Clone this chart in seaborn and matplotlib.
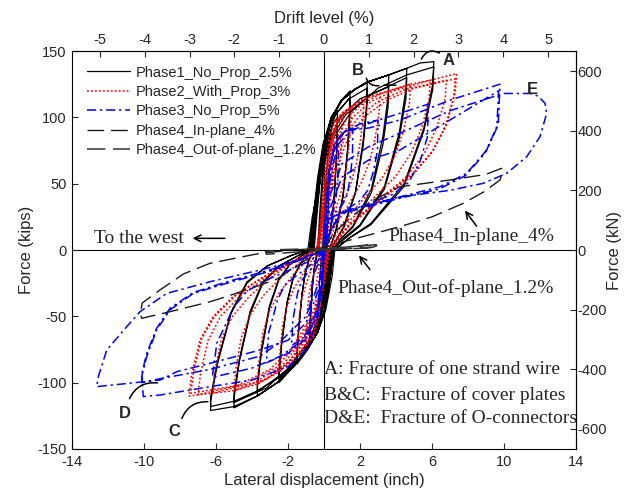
import pandas as pd
import matplotlib
matplotlib.use("Agg")
import matplotlib.pyplot as plt
import seaborn as sns

# displacement (inch), force (kips) read along each phase's loops
p1_path = [
    (0, 0), (0.05, 30), (0.15, 50), (0.3, 60), (0.29, 50), (0.25, 35), (0.18, 15), (0.1, 3), (0.05, 0),
    (-0.05, -20), (-0.15, -35), (-0.3, -45), (-0.29, -40), (-0.25, -25), (-0.17, -9), (-0.1, -2), (-0.08, 0),
    (0.0, 25), (0.12, 55), (0.3, 82), (0.5, 97), (0.75, 105), (0.74, 92), (0.68, 68), (0.55, 37), (0.35, 15), (0.2, 6), (0.1, 0),
    (0.0, -20), (-0.15, -42), (-0.4, -62), (-0.8, -72), (-0.8, -68), (-0.75, -51), (-0.65, -29), (-0.55, -15), (-0.42, -6), (-0.3, 0),
    (-0.2, 25), (-0.05, 55), (0.15, 80), (0.45, 94), (0.75, 100), (0.74, 88), (0.68, 65), (0.55, 35), (0.35, 14), (0.22, 6), (0.15, 0),
    (0.05, -18), (-0.12, -42), (-0.4, -60), (-0.8, -70), (-0.8, -66), (-0.75, -50), (-0.65, -28), (-0.56, -15), (-0.45, -6), (-0.35, 0),
    (-0.25, 25), (-0.1, 55), (0.1, 80), (0.4, 98), (0.9, 112), (1.45, 120), (1.43, 106), (1.32, 78), (1.06, 42), (0.7, 17), (0.45, 6), (0.3, 0),
    (0.15, -20), (-0.05, -42), (-0.35, -62), (-0.9, -75), (-1.5, -86), (-1.5, -81), (-1.41, -61), (-1.23, -34), (-1.05, -18), (-0.85, -8), (-0.6, 0),
    (-0.45, 25), (-0.25, 55), (0.0, 80), (0.5, 100), (1.45, 115), (1.43, 101), (1.32, 75), (1.06, 40), (0.7, 16), (0.45, 6), (0.25, 0),
    (0.1, -18), (-0.15, -45), (-0.5, -64), (-1.0, -75), (-1.5, -84), (-1.5, -79), (-1.41, -60), (-1.23, -34), (-1.05, -18), (-0.85, -8), (-0.55, 0),
    (-0.4, 25), (-0.2, 55), (0.05, 82), (0.4, 100), (1.0, 113), (1.7, 121), (2.4, 127), (2.38, 112), (2.18, 83), (1.75, 44), (1.1, 18), (0.7, 8), (0.4, 0),
    (0.25, -20), (0.0, -45), (-0.35, -62), (-1.0, -76), (-1.7, -88), (-2.5, -100), (-2.5, -94), (-2.35, -71), (-2.05, -40), (-1.7, -21), (-1.3, -10), (-0.8, 0),
    (-0.6, 25), (-0.35, 55), (-0.05, 80), (0.5, 100), (1.4, 114), (2.4, 122), (2.38, 107), (2.18, 79), (1.75, 43), (1.1, 17), (0.7, 8), (0.35, 0),
    (0.2, -20), (-0.1, -45), (-0.6, -65), (-1.2, -80), (-1.9, -90), (-2.5, -97), (-2.5, -91), (-2.35, -69), (-2.05, -39), (-1.7, -20), (-1.3, -10), (-0.75, 0),
    (-0.55, 25), (-0.3, 55), (0.0, 82), (0.4, 100), (1.0, 113), (1.7, 121), (2.5, 127), (3.6, 132), (3.56, 116), (3.28, 86), (2.63, 46), (1.6, 18), (0.9, 8), (0.5, 0),
    (0.35, -20), (0.05, -45), (-0.35, -62), (-1.0, -76), (-1.7, -88), (-2.6, -100), (-3.7, -110), (-3.7, -103), (-3.48, -78), (-3.03, -44), (-2.52, -23), (-1.9, -11), (-1.1, -3), (-0.7, 0),
    (-0.5, 25), (-0.2, 55), (0.2, 80), (0.9, 100), (2.0, 114), (3.6, 123), (3.56, 108), (3.28, 80), (2.63, 43), (1.6, 17), (0.9, 8), (0.45, 0),
    (0.25, -20), (-0.1, -45), (-0.6, -65), (-1.4, -82), (-2.5, -96), (-3.7, -106), (-3.7, -100), (-3.48, -75), (-3.03, -42), (-2.52, -22), (-1.9, -11), (-1.1, -3), (-0.65, 0),
    (-0.45, 25), (-0.2, 55), (0.1, 82), (0.45, 100), (1.0, 113), (1.7, 121), (2.5, 127), (3.6, 132), (4.6, 137), (4.55, 121), (4.19, 89), (3.36, 48), (2.0, 19), (1.1, 9), (0.5, 0),
    (0.35, -20), (0.05, -45), (-0.35, -62), (-1.0, -76), (-1.7, -88), (-2.6, -100), (-3.7, -110), (-5.0, -119), (-5.0, -112), (-4.7, -84), (-4.1, -48), (-3.4, -25), (-2.5, -12), (-1.4, -4), (-0.8, 0),
    (-0.55, 25), (-0.2, 55), (0.3, 82), (1.2, 102), (2.6, 117), (4.6, 130), (4.55, 114), (4.19, 85), (3.36, 46), (2.0, 18), (1.1, 8), (0.45, 0),
    (0.25, -20), (-0.15, -45), (-0.8, -68), (-1.9, -88), (-3.2, -104), (-5.0, -115), (-5.0, -108), (-4.7, -82), (-4.1, -46), (-3.4, -24), (-2.5, -12), (-1.4, -4), (-0.8, 0),
    (-0.6, 25), (-0.3, 55), (0.05, 82), (0.45, 100), (1.0, 113), (1.7, 121), (2.5, 127), (3.6, 132), (4.6, 137), (5.35, 141), (6.1, 142), (6.04, 125), (5.55, 92), (4.45, 50), (2.6, 20), (1.4, 9), (0.6, 0),
    (0.45, -20), (0.1, -45), (-0.35, -62), (-1.0, -76), (-1.7, -88), (-2.6, -100), (-3.7, -110), (-5.0, -118), (-6.3, -121), (-6.3, -114), (-5.92, -86), (-5.17, -48), (-4.28, -25), (-3.15, -12), (-1.8, -4), (-0.9, 0),
    (-0.65, 25), (-0.2, 55), (0.4, 82), (1.5, 104), (3.0, 122), (4.6, 132), (6.1, 138), (6.04, 121), (5.55, 90), (4.45, 48), (2.6, 19), (1.4, 9), (0.55, 0),
    (0.35, -20), (-0.1, -45), (-0.9, -70), (-2.0, -90), (-3.5, -105), (-5.0, -114), (-6.3, -118), (-6.3, -111), (-5.92, -84), (-5.17, -47), (-4.28, -24), (-3.15, -12), (-1.8, -4), (-0.9, 0),
]

p2_path = [
    (0, 0), (0.1, 30), (0.25, 60), (0.4, 78), (0.5, 85), (0.5, 76), (0.46, 61), (0.41, 48), (0.34, 37), (0.23, 26), (0.1, 13), (0, 0),
    (-0.1, -25), (-0.3, -45), (-0.5, -55), (-0.49, -47), (-0.46, -34), (-0.41, -25), (-0.34, -18), (-0.23, -10), (-0.1, -3), (0, 0),
    (0.1, 30), (0.25, 60), (0.45, 85), (0.7, 95), (1.0, 100), (0.99, 89), (0.92, 72), (0.82, 57), (0.67, 43), (0.45, 30), (0.2, 15), (0, 0),
    (-0.1, -25), (-0.3, -50), (-0.6, -65), (-1.0, -72), (-0.98, -61), (-0.92, -45), (-0.82, -33), (-0.67, -23), (-0.45, -13), (-0.25, -4), (-0.15, 0),
    (-0.05, 30), (0.15, 60), (0.4, 85), (0.7, 97), (1.0, 103), (1.5, 108), (1.49, 96), (1.38, 78), (1.23, 62), (1.0, 46), (0.68, 32), (0.3, 16), (0.05, 0),
    (-0.1, -25), (-0.3, -50), (-0.6, -65), (-1.0, -72), (-1.5, -80), (-1.47, -68), (-1.38, -50), (-1.23, -37), (-1.0, -26), (-0.7, -14), (-0.45, -5), (-0.3, 0),
    (-0.1, 30), (0.1, 60), (0.45, 85), (0.85, 98), (1.4, 106), (2.2, 114), (2.18, 101), (2.02, 82), (1.8, 65), (1.47, 49), (0.99, 34), (0.44, 17), (0.1, 0),
    (-0.1, -25), (-0.35, -50), (-0.8, -66), (-1.5, -80), (-2.5, -92), (-2.45, -78), (-2.3, -57), (-2.05, -42), (-1.68, -29), (-1.13, -17), (-0.6, -6), (-0.3, 0),
    (-0.1, 30), (0.2, 60), (0.6, 85), (1.0, 100), (1.6, 108), (2.3, 114), (3.1, 118), (3.07, 105), (2.85, 85), (2.54, 67), (2.08, 51), (1.4, 35), (0.62, 18), (0.15, 0),
    (-0.1, -25), (-0.45, -50), (-1.0, -68), (-1.8, -82), (-2.7, -93), (-3.7, -101), (-3.63, -86), (-3.4, -63), (-3.03, -46), (-2.48, -32), (-1.67, -18), (-0.8, -6), (-0.35, 0),
    (-0.05, 30), (0.3, 60), (0.75, 85), (1.3, 100), (2.2, 111), (3.2, 118), (4.8, 125), (4.75, 111), (4.42, 90), (3.94, 71), (3.22, 54), (2.16, 38), (0.96, 19), (0.2, 0),
    (-0.05, -25), (-0.5, -50), (-1.2, -70), (-2.0, -85), (-3.2, -97), (-5.0, -106), (-4.9, -90), (-4.6, -66), (-4.1, -49), (-3.35, -34), (-2.25, -19), (-1.0, -6), (-0.4, 0),
    (0.0, 30), (0.45, 60), (0.95, 85), (1.6, 100), (2.6, 112), (3.9, 120), (5.9, 128), (5.84, 114), (5.43, 92), (4.84, 73), (3.95, 55), (2.66, 38), (1.18, 19), (0.25, 0),
    (0.0, -25), (-0.55, -50), (-1.4, -72), (-2.4, -88), (-3.9, -100), (-6.2, -108), (-6.08, -92), (-5.7, -67), (-5.08, -50), (-4.15, -35), (-2.8, -19), (-1.3, -6), (-0.45, 0),
    (0.05, 30), (0.55, 60), (1.15, 85), (1.9, 100), (3.0, 112), (4.5, 121), (6.8, 128), (6.73, 114), (6.26, 92), (5.58, 73), (4.56, 55), (3.06, 38), (1.36, 19), (0.3, 0),
    (0.0, -25), (-0.6, -50), (-1.6, -73), (-2.7, -89), (-4.4, -101), (-7.0, -109), (-6.86, -93), (-6.44, -68), (-5.74, -50), (-4.69, -35), (-3.15, -20), (-1.45, -7), (-0.4, 0),
    (-0.15, 30), (0.05, 60), (0.3, 85), (0.6, 97), (1.0, 103), (1.5, 108), (2.2, 114), (3.1, 118), (4.8, 125), (5.9, 128), (7.37, 133), (7.28, 118), (6.81, 95), (6.07, 75), (4.96, 58), (3.3, 40), (1.47, 20), (0.2, 0),
    (-0.05, -25), (-0.3, -50), (-0.6, -65), (-1.0, -72), (-1.5, -80), (-2.5, -92), (-3.7, -101), (-5.0, -106), (-6.2, -108), (-7.5, -110), (-7.35, -93), (-6.89, -68), (-6.15, -50), (-5.04, -35), (-3.93, -25), (-2.5, -14), (-1.2, -5), (-0.3, 0),
    (0.1, 30), (0.65, 60), (1.35, 85), (2.2, 100), (3.5, 113), (5.0, 122), (7.3, 129), (7.2, 115), (6.75, 93), (6.0, 74), (4.9, 56), (3.3, 39), (1.46, 19), (0.3, 0),
    (0.0, -25), (-0.7, -50), (-1.8, -74), (-3.0, -90), (-4.8, -102), (-7.4, -108), (-7.25, -92), (-6.8, -67), (-6.07, -50), (-4.96, -35), (-3.33, -20), (-1.5, -7), (-0.4, 0),
]

p3_path = [
    (0, 0), (0.1, 30), (0.3, 60), (0.55, 75), (0.8, 80), (0.79, 62), (0.74, 49), (0.65, 37), (0.53, 30), (0.34, 26), (0.07, 18), (0, 0),
    (-0.1, -25), (-0.35, -45), (-0.8, -55), (-0.79, -51), (-0.77, -40), (-0.7, -31), (-0.65, -25), (-0.55, -18), (-0.4, -13), (-0.22, -8), (-0.1, -4), (0, 0),
    (0.1, 30), (0.3, 60), (0.6, 80), (1.0, 88), (1.6, 92), (1.58, 71), (1.47, 56), (1.3, 42), (1.06, 35), (0.69, 29), (0.14, 21), (0, 0),
    (-0.1, -25), (-0.4, -50), (-1.0, -65), (-1.8, -72), (-1.78, -67), (-1.73, -53), (-1.57, -40), (-1.46, -32), (-1.24, -23), (-0.9, -17), (-0.5, -11), (-0.22, -6), (0, 0),
    (0.1, 30), (0.3, 60), (0.6, 80), (1.2, 90), (2.0, 95), (3.0, 98), (2.97, 75), (2.76, 60), (2.43, 45), (1.98, 37), (1.29, 31), (0.27, 23), (0, 0),
    (-0.1, -25), (-0.4, -50), (-1.0, -67), (-2.0, -78), (-3.2, -85), (-3.17, -79), (-3.07, -62), (-2.78, -48), (-2.59, -38), (-2.21, -27), (-1.6, -20), (-0.9, -13), (-0.38, -7), (0, 0),
    (0.15, 30), (0.4, 60), (0.8, 80), (1.5, 90), (2.8, 97), (4.2, 103), (5.8, 110), (5.74, 85), (5.34, 67), (4.7, 51), (3.83, 42), (2.49, 35), (0.52, 25), (0, 0),
    (-0.15, -25), (-0.5, -50), (-1.2, -68), (-2.4, -80), (-4.0, -89), (-6.2, -96), (-6.14, -89), (-5.95, -70), (-5.39, -54), (-5.02, -43), (-4.28, -31), (-3.1, -22), (-1.74, -14), (-0.74, -8), (0, 0),
    (0.1, 30), (0.3, 60), (0.6, 80), (1.2, 90), (2.5, 92), (4.22, 98), (7.0, 113), (9.78, 125), (9.68, 95.5), (9.04, 75.4), (7.93, 57.8), (6.44, 47.7), (4.22, 40), (0.9, 28), (0.2, 10), (0, 0),
    (-0.1, -25), (-0.4, -55), (-1.0, -75), (-2.0, -88), (-4.0, -98), (-6.33, -103), (-9.1, -109.3), (-10.04, -110.5), (-10.13, -95.5), (-9.85, -80.4), (-9.3, -60.3), (-8.56, -45.2), (-7.26, -32.7), (-5.41, -25.1), (-3.0, -16), (-1.2, -7), (0, 0),
    (0.3, 30), (1.0, 55), (2.5, 68), (4.22, 75.4), (7.0, 98), (9.7, 120), (9.6, 92), (8.95, 73), (7.85, 56), (6.4, 46), (4.2, 39), (0.9, 27), (0.2, 9), (0, 0),
    (-0.3, -25), (-1.0, -50), (-2.5, -70), (-3.56, -80), (-6.33, -90), (-9.1, -97), (-10.1, -100), (-10.1, -92), (-9.85, -78), (-9.3, -59), (-8.56, -44), (-7.26, -32), (-5.41, -24), (-3.0, -15), (-1.2, -6), (0, 0),
    (0.3, 40), (1.0, 65), (2.5, 78), (4.22, 88), (7.0, 105), (9.96, 118), (11.44, 118), (11.9, 116), (12.28, 110.5), (12.37, 103), (12.0, 85.4), (11.26, 70.3), (10.15, 57.8), (8.85, 50.3), (7.0, 45), (4.22, 40), (1.0, 29), (0.2, 10), (0, 0),
    (-0.3, -30), (-1.0, -55), (-2.0, -68), (-3.56, -75.4), (-6.33, -85.4), (-8.18, -91.7), (-9.1, -98), (-11.7, -101.7), (-12.63, -103), (-12.54, -95.5), (-12.07, -75.4), (-10.96, -57.8), (-10.22, -46.5), (-8.74, -32.7), (-6.33, -23.9), (-3.56, -15.1), (-1.5, -8), (0, 0),
]

p4_in_path = [
    (0, 0), (0.5, 12), (1.5, 25), (2.8, 38), (4.22, 47.7), (7.0, 52.8), (9.0, 57), (9.87, 61.6), (9.85, 56), (9.78, 52.8),
    (8.9, 44), (7.74, 35.2), (6.0, 25), (4.22, 17.6), (1.44, 7.5), (0, 2), (-1.5, -12), (-2.63, -22), (-4.3, -30),
    (-5.4, -35), (-6.33, -39), (-8.56, -46.5), (-10.13, -51.5), (-10.2, -47), (-10.1, -40), (-9.1, -30), (-7.8, -18),
    (-6.33, -10), (-3.56, -2.5), (-1.7, 0), (0, 1.5),
]

p4_out_path = [
    (0, 0.5), (1.0, 2.0), (2.0, 3.2), (2.8, 4.3), (2.93, 3.3), (2.7, 2.0), (1.5, 1.2), (0, 0), (-1.5, -1.5), (-2.6, -2.6),
    (-3.2, -3.2), (-3.25, -1.2), (-2.4, 0.3), (-1.0, 0.8), (0.5, 1.5), (1.8, 2.8), (2.9, 4.0), (2.95, 2.6), (2.2, 1.4),
    (0.8, 0.6), (0, 0.3),
]

phase_labels = ["Phase1_No_Prop_2.5%", "Phase2_With_Prop_3%", "Phase3_No_Prop_5%",
                "Phase4_In-plane_4%", "Phase4_Out-of-plane_1.2%"]

x_ticks = list(range(-14, 15, 4))
y_ticks = list(range(-150, 151, 50))
drift_ticks = list(range(-5, 6))
kn_ticks = list(range(-600, 601, 200))

KIP_TO_KN = 4.448
INCH_PER_DRIFT = 2.49

sns.set_style("ticks", {"xtick.direction": "in", "ytick.direction": "in"})
plt.rcParams["font.family"] = ["Liberation Sans", "DejaVu Sans"]
plt.rcParams["axes.unicode_minus"] = False
serif = ["Liberation Serif", "DejaVu Serif"]

fig = plt.figure(figsize=(6.25, 4.92), dpi=100)
ax = fig.add_axes([0.1152, 0.0874, 0.8064, 0.8089])

styles = [
    dict(color="black", lw=0.9, linestyle="-"),
    dict(color="red", lw=1.1, linestyle=(0, (1.2, 1.4))),
    dict(color="blue", lw=1.1, linestyle=(0, (6, 2.5, 1.5, 2.5))),
    dict(color="#1a1a1a", lw=1.0, linestyle=(0, (12, 5))),
    dict(color="#333333", lw=1.1, linestyle=(0, (12, 5))),
]
paths = [p1_path, p2_path, p3_path, p4_in_path, p4_out_path]

for path, label, st in zip(paths, phase_labels, styles):
    df = pd.DataFrame(path, columns=["disp", "force"])
    sns.lineplot(data=df, x="disp", y="force", sort=False, estimator=None,
                 ax=ax, label=label, **st)

ax.axhline(0, color="black", lw=0.8, zorder=0)
ax.axvline(0, color="black", lw=0.8, zorder=0)

ax.set_xlim(-14, 14)
ax.set_ylim(-150, 150)
ax.set_xticks(x_ticks)
ax.set_yticks(y_ticks)
ax.tick_params(labelsize=10.5, length=4, width=0.8, pad=4, direction="in")
ax.set_xlabel("Lateral displacement (inch)", fontsize=12, labelpad=3)
ax.set_ylabel("Force (kips)", fontsize=12, labelpad=2)
for sp in ax.spines.values():
    sp.set_linewidth(0.8)
    sp.set_color("black")

top = ax.secondary_xaxis("top", functions=(lambda x: x / INCH_PER_DRIFT, lambda d: d * INCH_PER_DRIFT))
top.set_xticks(drift_ticks)
top.tick_params(labelsize=10.5, length=4, width=0.8, pad=3, direction="in")
top.set_xlabel("Drift level (%)", fontsize=12, labelpad=7)

right = ax.secondary_yaxis("right", functions=(lambda f: f * KIP_TO_KN, lambda k: k / KIP_TO_KN))
right.set_yticks(kn_ticks)
right.tick_params(labelsize=10.5, length=4, width=0.8, pad=1, direction="in")
right.set_ylabel("Force (kN)", fontsize=12, labelpad=0)

leg = ax.legend(loc="upper left", bbox_to_anchor=(0, 1), frameon=False, fontsize=10.5,
                handlelength=2.95, handletextpad=0.4, labelspacing=0.37,
                borderaxespad=0.6, borderpad=0.4)

# annotations
ax.text(-12.75, 8.8, "To the west", family=serif, fontsize=14, va="center")
arrow = dict(arrowstyle="->", color="black", lw=1.1, mutation_scale=12)
ax.annotate("", xy=(-7.45, 8.8), xytext=(-5.35, 8.8), arrowprops=arrow)
ax.text(3.56, 10, "Phase4_In-plane_4%", family=serif, fontsize=14, va="center")
ax.annotate("", xy=(7.74, 31.4), xytext=(8.57, 16.3), arrowprops=arrow)
ax.text(0.74, -28.9, "Phase4_Out-of-plane_1.2%", family=serif, fontsize=14, va="center")
ax.annotate("", xy=(1.85, -2.5), xytext=(2.65, -16.4), arrowprops=arrow)
ax.text(0.0, -90.4, "A: Fracture of one strand wire", family=serif, fontsize=14, va="center")
ax.text(0.0, -109.3, "B&C:  Fracture of cover plates", family=serif, fontsize=14, va="center")
ax.text(0.0, -126.8, "D&E:  Fracture of O-connectors", family=serif, fontsize=14, va="center")

for letter, (lx, ly) in {"A": (6.9, 143), "B": (1.9, 135.6), "C": (-8.33, -137),
                         "D": (-11.06, -123), "E": (11.6, 121)}.items():
    ax.text(lx, ly, letter, fontsize=12, fontweight="bold", ha="center", va="center")

lead = dict(arrowstyle="-", color="black", lw=1.1)
ax.annotate("", xy=(5.35, 142), xytext=(6.55, 147.5),
            arrowprops=dict(lead, connectionstyle="arc3,rad=0.6"))
ax.annotate("", xy=(3.2, 124.3), xytext=(2.3, 131.5),
            arrowprops=dict(lead, connectionstyle="arc3,rad=0.5"))
ax.annotate("", xy=(4.15, 124.3), xytext=(3.2, 124.3), arrowprops=lead)
ax.annotate("", xy=(-6.3, -114.5), xytext=(-7.95, -129),
            arrowprops=dict(lead, connectionstyle="arc3,rad=-0.4"))
ax.annotate("", xy=(-9.1, -100.5), xytext=(-10.87, -114),
            arrowprops=dict(lead, connectionstyle="arc3,rad=-0.4"))

fig.savefig("out.png", dpi=100)
